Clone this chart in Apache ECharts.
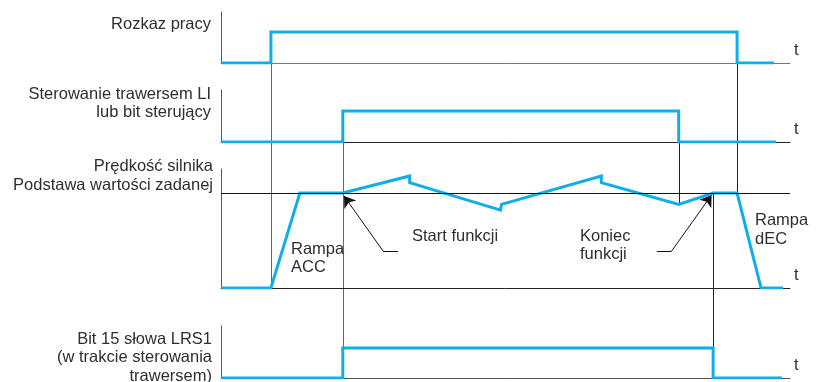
<!DOCTYPE html>
<html>
<head>
<meta charset="utf-8">
<script src="https://cdn.jsdelivr.net/npm/echarts@6/dist/echarts.min.js"></script>
<style>
  html, body { margin: 0; padding: 0; background: #fff; }
  #main { width: 822px; height: 382px; }
</style>
</head>
<body>
<div id="main"></div>
<script>
// przebiegi czasowe (czas w jednostkach umownych, poziom 0/1, prędkość względem wartości zadanej)
var runT   = [0, 5, 5, 51.7, 51.7, 55.4];
var runV   = [0, 0, 1, 1, 0, 0];
var travT  = [0, 12.2, 12.2, 45.85, 45.85, 55.6];
var travV  = [0, 0, 1, 1, 0, 0];
var speedT = [0, 5, 7.9, 12.2, 18.9, 18.9, 28, 28.1, 38.1, 38.1, 45.85, 49.3, 51.7, 54.1, 56.3];
var speedV = [0, 0, 1, 1, 1.18, 1.11, 0.82, 0.88, 1.18, 1.11, 0.88, 1, 1, 0, 0];
var bitT   = [0, 12.2, 12.2, 49.3, 49.3, 56.2];
var bitV   = [0, 0, 1, 1, 0, 0];
var refSpeed = 1;

// strzałki opisów (punkty w układzie wykresu prędkości)
var startArrow  = [[17.73, 0.39], [16.23, 0.39], [12.32, 0.97]];
var koniecArrow = [[43.65, 0.39], [45.15, 0.39], [49.15, 0.98]];

// pionowe linie pomocnicze: czas, [panel, poziom] od, [panel, poziom] do
var guideT    = [5, 12.2, 45.85, 49.3, 51.7];
var guideFrom = [[0, 0], [1, 0], [1, 0], [2, 1], [0, 0]];
var guideTo   = [[2, 0], [3, 0], [2, 0.88], [3, 0], [2, 1]];

var leftLabels = [
  'Rozkaz pracy',
  'Sterowanie trawersem LI\nlub bit sterujący',
  'Prędkość silnika\nPodstawa wartości zadanej',
  'Bit 15 słowa LRS1\n(w trakcie sterowania\ntrawersem)'
];

var BLUE = '#10aee8';
var TXT = '#2e2e2e';
var FONT = '16.5px "Liberation Sans", Arial, sans-serif';

function zip(t, v) {
  return t.map(function (x, i) { return [x, v[i]]; });
}

var chart = echarts.init(document.getElementById('main'));

var grids = [
  { left: 221, right: 32, top: 12, height: 51 },
  { left: 221, right: 32, top: 90, height: 52 },
  { left: 221, right: 32, top: 169, height: 119 },
  { left: 221, right: 32, top: 326, height: 52 }
];
var yMax = [1.65, 1.68, 1.253, 1.73];
var baseColor = ['#777', '#222', '#222', '#555'];

var xAxes = grids.map(function (g, i) {
  return {
    gridIndex: i, type: 'value', min: 0, max: 57,
    axisLine: { show: true, lineStyle: { color: baseColor[i], width: 1 } },
    axisTick: { show: false }, axisLabel: { show: false }, splitLine: { show: false },
    name: 't', nameLocation: 'end', nameGap: 4,
    nameTextStyle: { color: TXT, fontSize: 16.5, fontFamily: 'Liberation Sans', verticalAlign: 'bottom', padding: [0, 0, 4, 0] }
  };
});
var yAxes = grids.map(function (g, i) {
  return {
    gridIndex: i, type: 'value', min: 0, max: yMax[i],
    axisLine: { show: true, lineStyle: { color: '#555', width: 1 } },
    axisTick: { show: false }, axisLabel: { show: false }, splitLine: { show: false }
  };
});

function signal(i, t, v) {
  return {
    type: 'line', xAxisIndex: i, yAxisIndex: i, data: zip(t, v),
    symbol: 'none', z: 3, silent: true,
    lineStyle: { color: BLUE, width: 3, join: 'miter', cap: 'butt' }
  };
}

var option = {
  animation: false,
  grid: grids,
  xAxis: xAxes,
  yAxis: yAxes,
  series: [
    signal(0, runT, runV),
    signal(1, travT, travV),
    signal(2, speedT, speedV),
    signal(3, bitT, bitV),
    { // linia wartości zadanej
      type: 'line', xAxisIndex: 2, yAxisIndex: 2, data: [], z: 1,
      markLine: {
        silent: true, symbol: 'none', label: { show: false },
        lineStyle: { color: '#111', width: 1, type: 'solid' },
        data: [{ yAxis: refSpeed }]
      }
    },
    {
      type: 'lines', coordinateSystem: 'cartesian2d', xAxisIndex: 2, yAxisIndex: 2,
      symbol: ['none', 'arrow'], symbolSize: [6, 11], silent: true,
      lineStyle: { color: '#111', width: 1, opacity: 1 },
      data: [
        { coords: [startArrow[1], startArrow[2]] },
        { coords: [koniecArrow[1], koniecArrow[2]] }
      ]
    },
    {
      type: 'lines', coordinateSystem: 'cartesian2d', xAxisIndex: 2, yAxisIndex: 2,
      symbol: 'none', silent: true,
      lineStyle: { color: '#111', width: 1, opacity: 1 },
      data: [
        { coords: [startArrow[0], startArrow[1]] },
        { coords: [koniecArrow[0], koniecArrow[1]] }
      ]
    }
  ]
};
chart.setOption(option);

function txt(text, x, y, align) {
  return {
    type: 'text', z: 5, silent: true,
    style: { text: text, x: x, y: y, align: align || 'left', verticalAlign: 'middle',
             font: FONT, fill: TXT, lineHeight: 18.5 }
  };
}

var graphics = [
  txt(leftLabels[0], 211, 24.5, 'right'),
  txt(leftLabels[1], 211, 103.7, 'right'),
  txt(leftLabels[2], 213, 176, 'right'),
  txt(leftLabels[3], 212, 357.5, 'right'),
  txt('Rampa\nACC', 291, 258.3),
  txt('Start funkcji', 412, 236.7),
  txt('Koniec\nfunkcji', 580, 245.5),
  txt('Rampa\ndEC', 755, 229.8)
];

guideT.forEach(function (t, i) {
  var a = chart.convertToPixel({ gridIndex: guideFrom[i][0] }, [t, guideFrom[i][1]]);
  var b = chart.convertToPixel({ gridIndex: guideTo[i][0] }, [t, guideTo[i][1]]);
  graphics.push({
    type: 'line', z: 0, silent: true,
    shape: { x1: Math.round(a[0]) + 0.5, y1: a[1], x2: Math.round(b[0]) + 0.5, y2: b[1] },
    style: { stroke: i < 2 ? '#666' : '#222', lineWidth: 1 }
  });
});

chart.setOption({ graphic: graphics });
</script>
</body>
</html>
